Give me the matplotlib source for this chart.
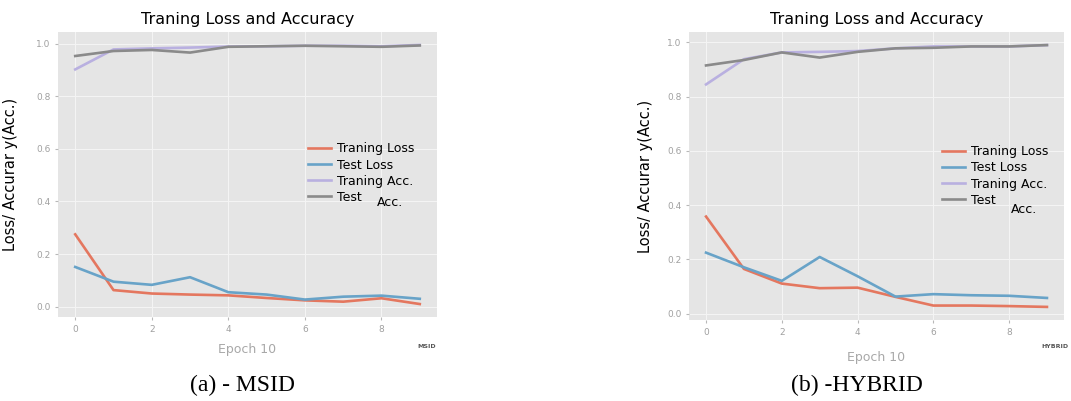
import matplotlib
matplotlib.use("Agg")
import matplotlib.pyplot as plt

plt.style.use("ggplot")

epochs = list(range(10))

# (a) MSID
msid_train_loss = [0.275, 0.063, 0.050, 0.046, 0.043, 0.033, 0.024, 0.019, 0.032, 0.010]
msid_test_loss = [0.151, 0.095, 0.083, 0.112, 0.055, 0.046, 0.027, 0.038, 0.042, 0.030]
msid_train_acc = [0.902, 0.978, 0.982, 0.985, 0.989, 0.990, 0.992, 0.992, 0.990, 0.995]
msid_test_acc = [0.953, 0.972, 0.976, 0.966, 0.988, 0.990, 0.992, 0.990, 0.988, 0.993]

# (b) HYBRID
hyb_train_loss = [0.358, 0.165, 0.111, 0.094, 0.096, 0.062, 0.030, 0.030, 0.028, 0.025]
hyb_test_loss = [0.225, 0.171, 0.121, 0.209, 0.138, 0.063, 0.072, 0.068, 0.066, 0.058]
hyb_train_acc = [0.845, 0.938, 0.963, 0.965, 0.968, 0.978, 0.985, 0.985, 0.985, 0.990]
hyb_test_acc = [0.915, 0.935, 0.963, 0.944, 0.965, 0.978, 0.980, 0.985, 0.985, 0.990]

series_labels = ["Traning Loss", "Test Loss", "Traning Acc.", "Test"]
series_colors = ["#E4775F", "#68A3C8", "#B9B0E0", "#8A8A8A"]
title_text = "Traning Loss and Accuracy"
ylabel_text = "Loss/ Accurar y(Acc.)"
xlabel_text = "Epoch 10"
yticks = [0.0, 0.2, 0.4, 0.6, 0.8, 1.0]
xticks = [0, 2, 4, 6, 8]

W, H = 1071, 401
fig = plt.figure(figsize=(W / 100, H / 100), dpi=100)
fig.patch.set_facecolor("white")


def axes_rect(l, r, t, b):
    return [l / W, 1 - b / H, (r - l) / W, (b - t) / H]


panels = [
    dict(rect=axes_rect(58, 437, 32, 317), data=[msid_train_loss, msid_test_loss, msid_train_acc, msid_test_acc],
         tag="MSID", tagpos=(427, 347), caption="(a) - MSID", cappos=(242, 385),
         leg=(0.66, 0.505), acc=(0.842, 0.40), ylc=-0.105, xlc=-0.091),
    dict(rect=axes_rect(689, 1064, 32, 320), data=[hyb_train_loss, hyb_test_loss, hyb_train_acc, hyb_test_acc],
         tag="HYBRID", tagpos=(1055, 346), caption="(b) -HYBRID", cappos=(857, 385),
         leg=(0.675, 0.50), acc=(0.859, 0.385), ylc=-0.096, xlc=-0.108),
]

for p in panels:
    ax = fig.add_axes(p["rect"])
    ax.set_facecolor("#E5E5E5")
    for vals, lab, col in zip(p["data"], series_labels, series_colors):
        ax.plot(epochs, vals, color=col, lw=1.9, label=lab)
    ax.set_xticks(xticks)
    ax.set_yticks(yticks)
    ax.set_yticklabels([f"{v:.1f}" for v in yticks])
    ax.tick_params(colors="#B8B8B8", labelsize=6.5, length=2, labelcolor="#A0A0A0")
    ax.grid(True, color="#F4F4F4", lw=0.8)
    for s in ax.spines.values():
        s.set_visible(False)
    ax.set_title(title_text, fontsize=11.5, color="black", pad=6, family="DejaVu Sans")
    ax.set_ylabel(ylabel_text, fontsize=10.5, color="black")
    ax.yaxis.set_label_coords(p["ylc"], 0.5)
    ax.set_xlabel(xlabel_text, fontsize=9, color="#A8A8A8")
    ax.xaxis.set_label_coords(0.5, p["xlc"])
    leg = ax.legend(loc="center left", bbox_to_anchor=p["leg"], frameon=False, fontsize=9,
                    handlelength=1.8, handletextpad=0.5, labelspacing=0.25, borderpad=0,
                    borderaxespad=0)
    for t in leg.get_texts():
        t.set_color("black")
    ax.text(p["acc"][0], p["acc"][1], "Acc.", transform=ax.transAxes, fontsize=9,
            color="black", ha="left", va="center")
    fig.text(p["tagpos"][0] / W, 1 - p["tagpos"][1] / H, p["tag"], fontsize=4.5,
             fontweight="bold", color="#555555", ha="center", va="center")
    fig.text(p["cappos"][0] / W, 1 - p["cappos"][1] / H, p["caption"], fontsize=17,
             family="Liberation Serif", color="black", ha="center", va="center")

fig.savefig("out.png", dpi=100, facecolor="white")
